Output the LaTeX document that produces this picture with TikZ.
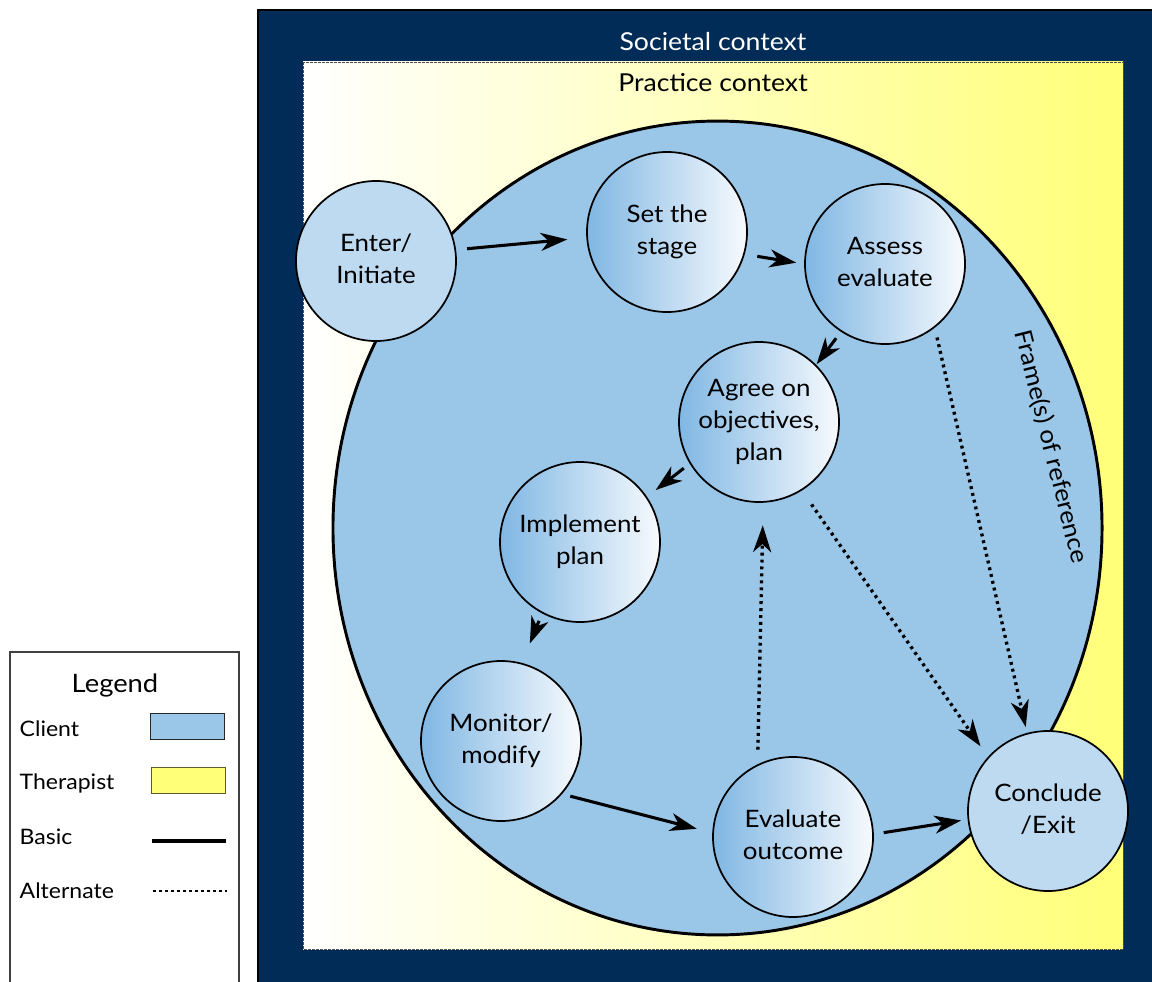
\documentclass[tikz,border=0pt]{standalone}
\usepackage{fontspec}
\setmainfont{Lato}[FakeStretch=1.08]
\usetikzlibrary{arrows.meta,calc}
\definecolor{navy}{HTML}{002C57}
\definecolor{clientblue}{HTML}{9AC6E8}
\definecolor{lightclient}{HTML}{BEDAF0}
\definecolor{therapist}{HTML}{FFFF78}
\definecolor{shadeblue}{HTML}{80B7E3}
\definecolor{shadewhite}{HTML}{F7FAFE}
\newcommand{\lines}[2][0pt]{\raisebox{#1}{\begin{tabular}{@{}c@{}}#2\end{tabular}}}
\begin{document}
\begin{tikzpicture}[x=0.75pt,y=-0.75pt,
  txt/.style={font=\fontsize{18}{24}\selectfont, text=black},
  legtxt/.style={font=\fontsize{16}{20}\selectfont, text=black, anchor=west},
  stagebox/.style={circle, draw=black, line width=1.3pt, minimum size=120pt, inner sep=0pt, align=center, txt},
  flatstage/.style={stagebox, fill=lightclient},
  shadestage/.style={stagebox, left color=shadeblue, right color=shadewhite},
  tip/.style={-{Stealth[length=20pt,width=13.5pt,inset=6pt]}},
  basic/.style={line width=2.3pt, tip},
  alt/.style={line width=2.5pt, line cap=butt, dash pattern=on 2.2pt off 3pt, tip},
  swatch/.style={draw, line width=0.8pt, minimum width=56pt, minimum height=20pt, inner sep=0pt}
]
\useasboundingbox (0,0) rectangle (1152,981);
% outer societal frame
\fill[navy] (258,10) rectangle (1160,990);
\draw[black, line width=1.2pt] (258,990) -- (258,10) -- (1160,10);
% practice context
\shade[left color=white, right color=therapist] (303,62) rectangle (1123,949);
\draw[black!70, line width=0.6pt, dash pattern=on 2pt off 1pt] (303,62) rectangle (1123,949);
% frame of reference
\draw[fill=clientblue, line width=2.2pt] (717.5,528) ellipse [x radius=288.4pt, y radius=305.2pt];

\node[txt, font=\fontsize{18.5}{24}\selectfont, text=white] (soc) at (713,42) {Societal context};
\node[txt, font=\fontsize{18.5}{24}\selectfont] (prac) at (713,83) {Practice context};
\node[txt, rotate=-76] (frame) at (1051,447) {Frame(s) of reference};

% stages
\node[flatstage] (E) at (376,261) {\lines[7pt]{Enter/\\Initiate}};
\node[shadestage] (S) at (667,232) {\lines[-1.5pt]{Set the\\stage}};
\node[shadestage] (A) at (885,264) {\lines[4pt]{Assess\\evaluate}};
\node[shadestage] (G) at (759,422) {\lines[-2pt]{Agree on\\objectives,\\plan}};
\node[shadestage] (I) at (580,542) {\lines[-2pt]{Implement\\plan}};
\node[shadestage] (M) at (501,741) {\lines{Monitor/\\modify}};
\node[shadestage] (V) at (793,837) {\lines{Evaluate\\outcome}};
\node[flatstage] (C) at (1048,811) {\lines{Conclude\\/Exit}};

% basic connectors
\draw[basic, shorten <=8.3pt, shorten >=14.3pt] (E.8.7) -- (S.184.6);
\draw[basic, shorten <=9.5pt, shorten >=6pt] (S.-16.3) -- (A.180.7);
\draw[basic, shorten <=6pt, shorten >=0.5pt] (A.237) -- (G.45.5);
\draw[basic, shorten <=5.6pt, shorten >=8.2pt] (G.211) -- (I.34.7);
\draw[basic, shorten <=6pt, shorten >=15.7pt] (I.242.9) -- (M.75.1);
\draw[basic, shorten <=6.4pt, shorten >=12pt] (M.-41.8) -- (V.177);
\draw[basic, shorten <=7.5pt, shorten >=4.9pt] (V.2.5) -- (C.186);
% alternate connectors
\draw[alt, shorten <=11pt, shorten >=17pt] (V.116.8) -- (G.273.9);
\draw[alt, shorten <=12.7pt, shorten >=9.7pt] (G.-58.4) -- (C.138.9);
\draw[alt, shorten <=7.5pt, shorten >=4.5pt] (A.-52.2) -- (C.105.5);

% legend
\draw[black!75, line width=0.9pt] (10,990) -- (10,652) -- (239,652) -- (239,990);
\node[txt, font=\fontsize{19}{24}\selectfont] (leg) at (115,685) {Legend};
\node[legtxt] (lc) at (15,729) {Client};
\node[legtxt] (lt) at (15,783) {Therapist};
\node[legtxt] (lb) at (15,837) {Basic};
\node[legtxt] (la) at (15,891) {Alternate};
\node[swatch, fill=clientblue, draw=black!85] (sc) at (187.5,726.5) {};
\node[swatch, fill=therapist, draw=black!45!olive] (st) at (188.5,780.5) {};
\coordinate (b1) at (152,841);
\coordinate (b2) at (226,841);
\coordinate (a1) at (153,891);
\coordinate (a2) at (227,891);
\draw[line width=2.4pt] (b1) -- (b2);
\draw[line width=2.1pt, dash pattern=on 2pt off 2.5pt] (a1) -- (a2);
\end{tikzpicture}
\end{document}
